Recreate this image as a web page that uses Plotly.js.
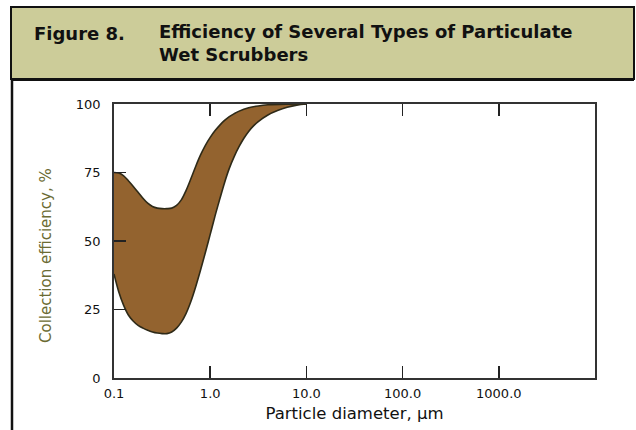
<!DOCTYPE html>
<html>
<head>
<meta charset="utf-8">
<script src="https://cdn.plot.ly/plotly-3.0.1.min.js"></script>
<style>
html,body{margin:0;padding:0;background:#fff;}
#chart{width:636px;height:430px;}
</style>
</head>
<body>
<div id="chart"></div>
<script>
// Particle diameter (µm) and collection efficiency (%) for the band boundaries
const upperDiameter = [0.1, 0.112, 0.126, 0.141, 0.158, 0.178, 0.2, 0.224, 0.251, 0.282, 0.316, 0.355, 0.398, 0.447, 0.501, 0.562, 0.631, 0.708, 0.794, 0.891, 1.0, 1.12, 1.26, 1.41, 1.58, 1.78, 2.0, 2.51, 3.16, 3.98, 6.31, 10];
const upperEfficiency = [75, 74.8, 73.8, 72, 70, 67.8, 65.6, 63.8, 62.6, 62, 61.8, 61.8, 62, 63, 65, 68.5, 72.8, 77.3, 81.4, 84.9, 87.8, 90.2, 92.3, 94.0, 95.4, 96.5, 97.4, 98.6, 99.3, 99.7, 99.95, 100];
const lowerDiameter = [0.1, 0.112, 0.126, 0.141, 0.158, 0.178, 0.2, 0.224, 0.251, 0.282, 0.316, 0.355, 0.398, 0.447, 0.501, 0.562, 0.631, 0.708, 0.794, 0.891, 1.0, 1.12, 1.26, 1.41, 1.58, 1.78, 2.0, 2.24, 2.51, 2.82, 3.16, 3.98, 5.01, 6.31, 7.94, 10];
const lowerEfficiency = [38, 31.5, 26.5, 23, 20.8, 19.2, 18.2, 17.4, 16.8, 16.4, 16.2, 16.2, 16.8, 18.2, 20.4, 23.6, 28, 33.4, 39.4, 45.8, 52.4, 59, 65.4, 71.3, 76.5, 80.9, 84.5, 87.5, 90, 92, 93.6, 96, 97.6, 98.8, 99.6, 100];

const xTickVals = [0.1, 1, 10, 100, 1000];
const xTickText = ['0.1', '1.0', '10.0', '100.0', '1000.0'];
const yTickVals = [0, 25, 50, 75, 100];

const W = 636, H = 430, L = 114, R = 41, T = 104, B = 52;
const pw = W - L - R, ph = H - T - B;
const px = x => (x - L) / pw;
const py = y => (H - B - y) / ph;

const edge = '#2e2a18';
const fillColor = '#93632f';

const traces = [
  {
    x: lowerDiameter, y: lowerEfficiency, type: 'scatter', mode: 'lines',
    line: {color: edge, width: 1.6, shape: 'spline', smoothing: 1},
    hoverinfo: 'skip', showlegend: false
  },
  {
    x: upperDiameter, y: upperEfficiency, type: 'scatter', mode: 'lines',
    fill: 'tonexty', fillcolor: fillColor,
    line: {color: edge, width: 1.6, shape: 'spline', smoothing: 1},
    hoverinfo: 'skip', showlegend: false
  }
];

const tickFont = {family: 'DejaVu Sans', size: 13, color: '#111'};
const headFont = {family: 'DejaVu Sans', size: 18, color: '#111'};

const layout = {
  width: W, height: H,
  margin: {l: L, r: R, t: T, b: B, pad: 0},
  paper_bgcolor: '#fff', plot_bgcolor: '#fff',
  showlegend: false,
  xaxis: {
    type: 'log', range: [-1, 4],
    tickvals: xTickVals, ticktext: xTickText,
    ticks: 'inside', ticklen: 12, tickwidth: 1.5, tickcolor: '#222',
    showline: true, linecolor: '#333', linewidth: 1.8, mirror: 'ticks',
    showgrid: false, zeroline: false,
    tickfont: tickFont, ticklabelstandoff: 3,
    title: {text: 'Particle diameter, µm', font: {family: 'DejaVu Sans', size: 16.5, color: '#111'}, standoff: 7}
  },
  yaxis: {
    range: [0, 100],
    tickvals: yTickVals,
    ticks: 'inside', ticklen: 12, tickwidth: 1.5, tickcolor: '#222',
    showline: true, linecolor: '#333', linewidth: 1.8, mirror: true,
    showgrid: false, zeroline: false,
    tickfont: tickFont, ticklabelstandoff: 9
  },
  shapes: [
    {type: 'rect', xref: 'paper', yref: 'paper', x0: px(11), x1: px(634), y0: py(7), y1: py(79),
     fillcolor: '#cccc99', line: {color: '#111', width: 2}},
    {type: 'line', xref: 'paper', yref: 'paper', x0: px(11), x1: px(634), y0: py(79.5), y1: py(79.5),
     line: {color: '#111', width: 3}},
    {type: 'line', xref: 'paper', yref: 'paper', x0: px(12), x1: px(12), y0: py(80), y1: py(432),
     line: {color: '#111', width: 2.5}}
  ],
  annotations: [
    {xref: 'paper', yref: 'paper', x: px(32), y: py(33), xanchor: 'left', yanchor: 'middle', showarrow: false,
     text: '<b>Figure 8.</b>', font: headFont},
    {xref: 'paper', yref: 'paper', x: px(157), y: py(43), xanchor: 'left', yanchor: 'middle', align: 'left', showarrow: false,
     text: '<b>Efficiency of Several Types of Particulate<br>Wet Scrubbers</b>', font: headFont},
    {xref: 'paper', yref: 'paper', x: px(46), y: py(256), xanchor: 'center', yanchor: 'middle', showarrow: false,
     textangle: -90, text: 'Collection efficiency, %', font: {family: 'DejaVu Sans', size: 15, color: '#6b6b33'}}
  ]
};

Plotly.newPlot('chart', traces, layout, {staticPlot: true, displayModeBar: false});
</script>
</body>
</html>
